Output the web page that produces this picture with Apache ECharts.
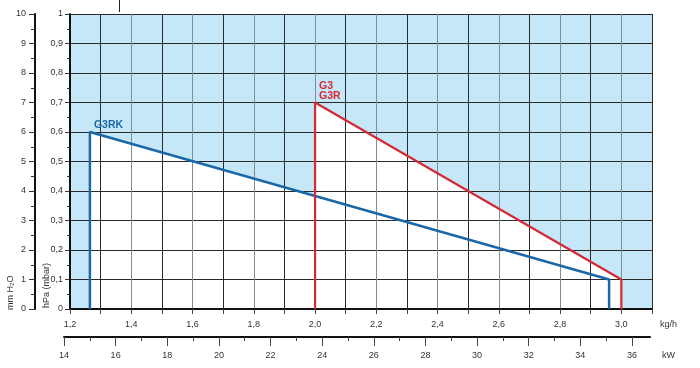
<!DOCTYPE html>
<html><head><meta charset="utf-8">
<script src="https://cdn.jsdelivr.net/npm/echarts@6/dist/echarts.min.js"></script>
<style>html,body{margin:0;padding:0;background:#fff}#c{width:700px;height:368px}</style>
</head><body><div id="c"></div>
<script>
// flow range (kg/h) and pressure ranges
const kghMin = 1.2, kghMax = 3.1, kghStep = 0.1;
const hpaMin = 0, hpaMax = 1, hpaStep = 0.1;
const mmMin = 0, mmMax = 10, mmStep = 1;
const kwMin = 14, kwMax = 36.7;
const kwMajor = [14,16,18,20,22,24,26,28,30,32,34,36];
const kwMinor = [15,17,19,21,23,25,27,29,31,33,35];
// working field outlines [kg/h, hPa]
const g3rkX = [1.265, 1.265, 2.96, 2.96];
const g3rkY = [0, 0.6, 0.1, 0];
const g3X = [2.0, 2.0, 3.0, 3.0];
const g3Y = [0, 0.7, 0.1, 0];
const g3rkName = 'G3RK';
const g3Name = 'G3\nG3R';

const FONT = 'Liberation Sans';
const txt = '#333';
const comma = v => (Math.round(v*10)/10).toFixed(1).replace('.', ',');
const pts = (xs, ys) => xs.map((x,i)=>[x, ys[i]]);

const blueC = '#1b68a8', redC = '#d42a35';

const chart = echarts.init(document.getElementById('c'));
chart.setOption({
  animation: false,
  grid: [
    {left: 70, right: 48, top: 14, bottom: 59, show: true, backgroundColor: '#c6e7f8', borderWidth: 0},
    {left: 64, right: 50, top: 336, height: 1}
  ],
  xAxis: [
    {gridIndex: 0, type: 'value', min: kghMin, max: kghMax, interval: kghStep, z: 2,
     axisLine: {show: true, onZero: false, lineStyle: {color: '#111', width: 2}},
     axisTick: {show: true, length: 5, lineStyle: {color: '#444'}},
     axisLabel: {margin: 11, fontFamily: FONT, fontSize: 9, color: txt,
                 formatter: v => { const t = Math.round(v*10); return (t % 2 === 0 && t <= 30) ? comma(v) : ''; }},
     splitLine: {show: true, lineStyle: {color: ['#7e8e99', '#2a2a2a'], width: 1}}},
    {gridIndex: 1, type: 'value', min: kwMin, max: kwMax, position: 'bottom',
     axisLine: {show: true, onZero: false, lineStyle: {color: '#111', width: 2}},
     axisTick: {show: true, length: 9, customValues: kwMajor, lineStyle: {color: '#444'}},
     axisLabel: {customValues: kwMajor, margin: 14, fontFamily: FONT, fontSize: 9, color: txt},
     splitLine: {show: false}},
    {gridIndex: 1, type: 'value', min: kwMin, max: kwMax, position: 'bottom',
     axisLine: {show: false},
     axisTick: {show: true, length: 4, customValues: kwMinor, lineStyle: {color: '#444'}},
     axisLabel: {show: false}, splitLine: {show: false}}
  ],
  yAxis: [
    {gridIndex: 0, type: 'value', min: hpaMin, max: hpaMax, interval: hpaStep, z: 2,
     axisLine: {show: true, onZero: false, lineStyle: {color: '#111', width: 2}},
     axisTick: {show: true, length: 5, lineStyle: {color: '#333'}},
     minorTick: {show: true, splitNumber: 2, length: 3, lineStyle: {color: '#333'}},
     axisLabel: {margin: 7, fontFamily: FONT, fontSize: 9, color: txt, formatter: v => v === 0 ? '0' : (v === 1 ? '1' : comma(v))},
     splitLine: {show: true, lineStyle: {color: '#2a2a2a', width: 1}}},
    {gridIndex: 0, type: 'value', min: mmMin, max: mmMax, interval: mmStep, position: 'left', offset: 35,
     axisLine: {show: true, onZero: false, lineStyle: {color: '#111', width: 2}},
     axisTick: {show: true, length: 6, lineStyle: {color: '#333'}},
     minorTick: {show: true, splitNumber: 2, length: 4, lineStyle: {color: '#333'}},
     axisLabel: {margin: 9, fontFamily: FONT, fontSize: 9, color: txt},
     splitLine: {show: false}},
    {gridIndex: 1, type: 'value', show: false}
  ],
  series: [
    {type: 'line', xAxisIndex: 0, yAxisIndex: 0, z: 1, data: pts(g3rkX, g3rkY), symbol: 'none',
     lineStyle: {width: 0, opacity: 0}, areaStyle: {color: '#ffffff', opacity: 1}},
    {type: 'line', xAxisIndex: 0, yAxisIndex: 0, z: 1, data: pts(g3X, g3Y), symbol: 'none',
     lineStyle: {width: 0, opacity: 0}, areaStyle: {color: '#ffffff', opacity: 1}},
    {type: 'line', xAxisIndex: 0, yAxisIndex: 0, z: 5, symbol: 'none', silent: true,
     lineStyle: {color: blueC, width: 2.5},
     data: pts(g3rkX, g3rkY).map((p, i) => i === 1 ? {value: p, symbol: 'circle', symbolSize: 0.1,
        label: {show: true, position: 'top', align: 'left', offset: [4, 4], formatter: g3rkName,
                fontFamily: FONT, fontWeight: 'bold', fontSize: 10.5, color: blueC}} : p)},
    {type: 'line', xAxisIndex: 0, yAxisIndex: 0, z: 5, symbol: 'none', silent: true,
     lineStyle: {color: redC, width: 2.2},
     data: pts(g3X, g3Y).map((p, i) => i === 1 ? {value: p, symbol: 'circle', symbolSize: 0.1,
        label: {show: true, position: 'top', align: 'left', offset: [4, 4], formatter: g3Name, lineHeight: 10,
                fontFamily: FONT, fontWeight: 'bold', fontSize: 10.5, color: redC}} : p)}
  ],
  graphic: [
    {type: 'line', shape: {x1: 119.5, y1: 0, x2: 119.5, y2: 12}, style: {stroke: '#222', lineWidth: 1}},
    {type: 'text', x: 660, y: 325, style: {text: 'kg/h', font: '9px "Liberation Sans"', fill: txt, textAlign: 'left', textVerticalAlign: 'middle'}},
    {type: 'text', x: 662, y: 356, style: {text: 'kW', font: '9px "Liberation Sans"', fill: txt, textAlign: 'left', textVerticalAlign: 'middle'}},
    {type: 'text', x: 47, y: 308, rotation: Math.PI / 2, style: {text: 'hPa (mbar)', font: '9px "Liberation Sans"', fill: txt, textAlign: 'left', textVerticalAlign: 'middle'}},
    {type: 'text', x: 11, y: 310, rotation: Math.PI / 2, style: {text: 'mm H₂O', font: '9px "Liberation Sans"', fill: txt, textAlign: 'left', textVerticalAlign: 'middle'}}
  ]
});
</script></body></html>
